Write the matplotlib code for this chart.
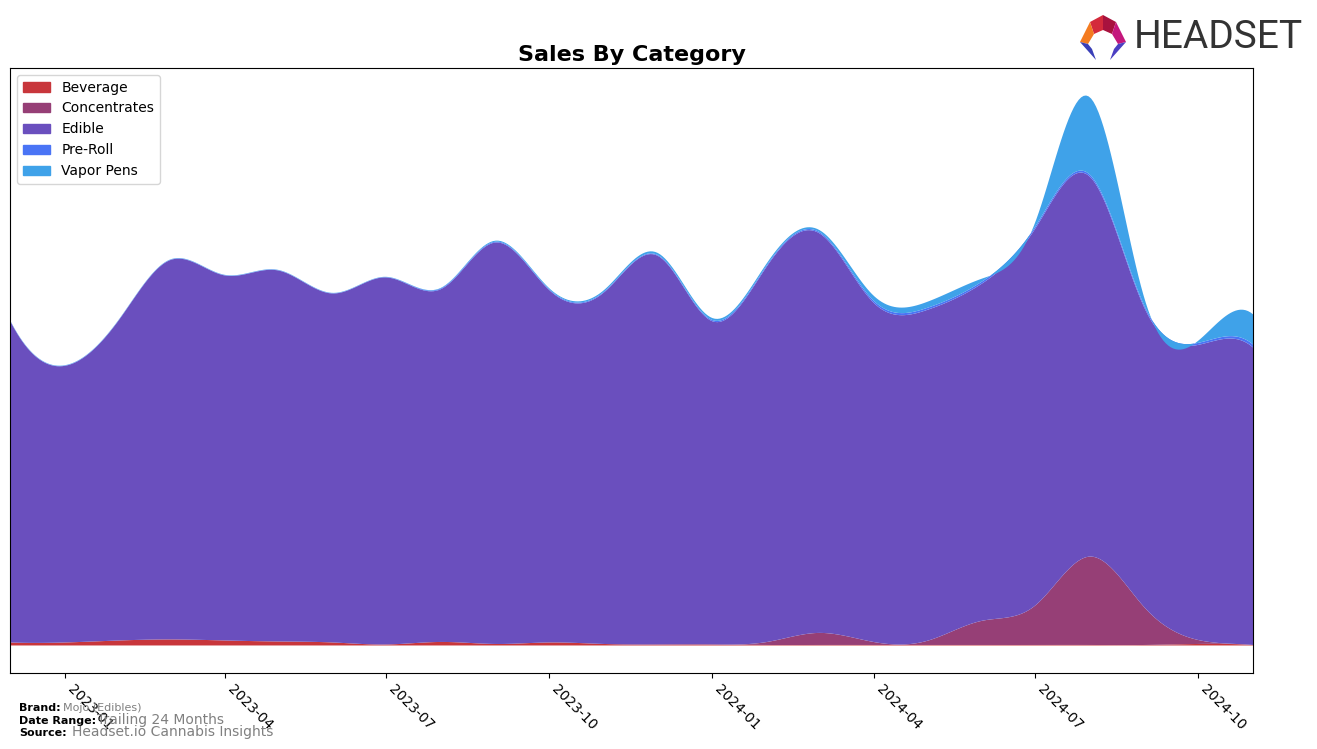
#! /usr/bin/env python3
# Sales By Category - stacked, smoothed monthly areas

import numpy as np
import pandas as pd
import matplotlib
matplotlib.use("Agg")
import matplotlib.pyplot as plt
import matplotlib.dates as mdates
from matplotlib.patches import Polygon, Patch

### Data (monthly) ############################################################
months = pd.date_range("2022-12-01", "2024-11-01", freq="MS")

categories = ["Beverage", "Concentrates", "Edible", "Pre-Roll", "Vapor Pens"]
colors = ["#C8363B", "#963F76", "#6A4FBE", "#4A74F5", "#3FA2E9"]

beverage = [3, 3, 5, 6, 5, 4, 3, 1, 3.5, 1.5, 3, 1.5,
            1, 1, 0.5, 0.5, 0.5, 0.5, 0.5, 0.5, 0.5, 0.5, 1.5, 0.5]
concentrates = [0, 0, 0, 0, 0, 0, 0, 0, 0, 0, 0, 0,
                0, 0, 3, 12, 3, 4, 24, 39, 88, 37, 4, 0]
edible = [320.4, 275.4, 320.4, 377.4, 363.4, 369.4, 347.4, 365.4, 351.2, 399.7, 351.0, 350.0,
          387.2, 321.8, 374.3, 398.3, 337.8, 329.4, 335.6, 374.9, 378.2, 297.7, 293.7, 296.2]
preroll = [0.3, 0.3, 0.3, 0.3, 0.3, 0.3, 0.3, 0.3, 0.8, 0.8, 0.8, 0.8,
           0.8, 1.2, 1.2, 1.2, 2, 2, 2, 2, 2, 2, 2, 3]
vapor = [0.3, 0.3, 0.3, 0.3, 0.3, 0.3, 0.3, 0.3, 0.5, 1, 1, 1.5,
         2, 2, 2, 2, 5, 6, 3, 4, 77, 7, 2, 30]

series = [beverage, concentrates, edible, preroll, vapor]


def smooth(x, y, xs):
    # not-a-knot cubic spline, done by hand (no scipy here)
    x = np.asarray(x, float)
    y = np.asarray(y, float)
    n = len(x)
    h = np.diff(x)
    A = np.zeros((n, n))
    b = np.zeros(n)
    for i in range(1, n - 1):
        A[i, i - 1] = h[i - 1]
        A[i, i] = 2 * (h[i - 1] + h[i])
        A[i, i + 1] = h[i]
        b[i] = 6 * ((y[i + 1] - y[i]) / h[i] - (y[i] - y[i - 1]) / h[i - 1])
    A[0, 0], A[0, 1], A[0, 2] = h[1], -(h[0] + h[1]), h[0]
    A[-1, -3], A[-1, -2], A[-1, -1] = h[-1], -(h[-2] + h[-1]), h[-2]
    M = np.linalg.solve(A, b)
    idx = np.clip(np.searchsorted(x, xs) - 1, 0, n - 2)
    t0, t1 = x[idx], x[idx + 1]
    hh = t1 - t0
    a = (t1 - xs) / hh
    c = (xs - t0) / hh
    return a * y[idx] + c * y[idx + 1] + ((a**3 - a) * M[idx] + (c**3 - c) * M[idx + 1]) * hh**2 / 6


def main():
    xnum = mdates.date2num(months.to_pydatetime())
    xs = np.linspace(xnum[0], xnum[-1], 500)
    ys = [smooth(xnum, s, xs) for s in series]

### Figure ####################################################################
    fig = plt.figure(figsize=(13.17, 7.49), dpi=100)
    ax = fig.add_axes([0.0076, 0.1015, 0.9438, 0.8077])
    ax.stackplot(xs, *ys, colors=colors, labels=categories, linewidth=0.3)

    cum = np.cumsum(ys, axis=0)
    lo, hi = min(0, cum.min()), cum.max()
    pad = 0.05 * (hi - lo)
    ax.set_ylim(lo - pad, hi + pad)
    ax.set_xlim(xnum[0], xnum[-1])
    ax.set_yticks([])
    ax.xaxis.set_major_locator(mdates.MonthLocator(bymonth=[1, 4, 7, 10]))
    ax.xaxis.set_major_formatter(mdates.DateFormatter("%Y-%m"))
    plt.setp(ax.get_xticklabels(), rotation=-45, ha="left", rotation_mode="default", fontsize=10)
    ax.set_title("Sales By Category", fontsize=16, fontweight="bold", pad=5)

    handles = [Patch(color=c, label=l) for c, l in zip(colors, categories)]
    ax.legend(handles=handles, loc="upper left", fontsize=10)

### Footer ####################################################################
    fig.text(0.0144, 0.051, "Brand:", fontsize=8, fontweight="bold")
    fig.text(0.048, 0.051, "Mojo (Edibles)", fontsize=8, color="gray")
    fig.text(0.0144, 0.034, "Date Range:", fontsize=8, fontweight="bold")
    fig.text(0.0737, 0.034, "Trailing 24 Months", fontsize=10, color="gray")
    fig.text(0.0144, 0.018, "Source:", fontsize=8, fontweight="bold")
    fig.text(0.0547, 0.018, "Headset.io Cannabis Insights", fontsize=10, color="gray")

### Logo ######################################################################
    W, H = 1317.0, 749.0

    def px(pts):
        return [(x / W, 1 - y / H) for x, y in pts]

    shapes = [
        ([(1090, 22), (1103, 15), (1103, 30), (1094, 34)], "#D42A3C"),
        ([(1103, 15), (1116, 22), (1112, 34), (1103, 30)], "#A8123E"),
        ([(1090, 22), (1094, 34), (1088, 44), (1080, 42)], "#F47B20"),
        ([(1116, 22), (1126, 42), (1118, 44), (1112, 34)], "#C4177C"),
        ([(1080, 42), (1088, 44), (1092, 49), (1096, 60)], "#3A3FB8"),
        ([(1126, 42), (1118, 44), (1114, 49), (1110, 60)], "#4B3FC2"),
    ]
    for pts, col in shapes:
        fig.patches.append(Polygon(px(pts), closed=True, facecolor=col, edgecolor="none",
                                   transform=fig.transFigure, figure=fig))
    fig.text(1218 / W, 1 - 38 / H, "HEADSET", fontsize=28, color="#333333",
             family=["Roboto", "DejaVu Sans"], ha="center", va="center")

    fig.savefig("out.png", dpi=100)


if __name__ == "__main__":
    main()
